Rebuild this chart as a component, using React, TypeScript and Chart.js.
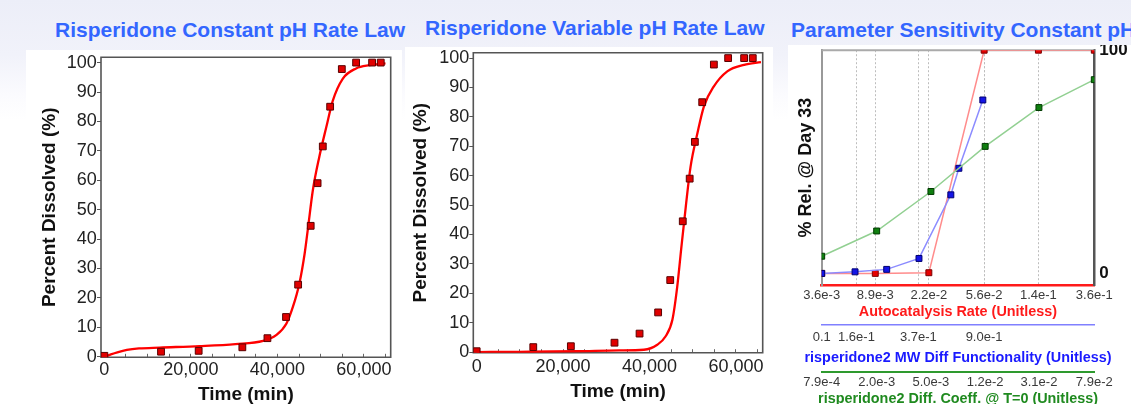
import React, { useEffect, useRef } from "react";
import { Chart, registerables } from "chart.js";
Chart.register(...registerables);

const FONT = "'Liberation Sans', Arial, Helvetica, sans-serif";

// ---- Dissolution data (shared observed points) ----
const obsTime = [0, 13100, 21800, 31900, 37700, 42000, 44800, 47700, 49300, 50500, 52200, 54900, 58200, 61900, 63900];
const obsPct = [0.3, 1.7, 2.0, 3.2, 6.3, 13.5, 24.5, 44.5, 59, 71.5, 85, 97.8, 100, 100, 100];

// Constant pH rate law fitted curve
const fitTime1 = [0, 1500, 3000, 5200, 8000, 12800, 22000, 30300, 36700, 39800, 42100, 43600, 45100, 46300, 47100, 48200, 49700, 51300, 52800, 55100, 58200, 61300, 65000];
const fitPct1 = [0, 0.8, 1.5, 2.3, 2.8, 3.1, 3.6, 4.3, 5.4, 7.4, 11.3, 17, 25, 35, 44, 56.6, 68, 78, 87, 94.5, 98, 99.1, 99.7];

// Variable pH rate law fitted curve
const fitTime2 = [0, 10000, 23200, 33000, 38700, 41800, 43700, 45300, 46400, 47400, 48400, 49500, 51100, 52600, 54900, 58000, 61900, 65800];
const fitPct2 = [0, 0.1, 0.3, 0.6, 0.8, 2.5, 5.3, 11, 22, 36, 49.5, 63, 74.5, 83.6, 90.4, 95.5, 97.7, 98.6];

const timeTicks = [0, 5000, 10000, 15000, 20000, 25000, 30000, 35000, 40000, 45000, 50000, 55000, 60000, 65000];
const timeLabelEvery = 20000;
const pctTicks = [0, 10, 20, 30, 40, 50, 60, 70, 80, 90, 100];

// ---- Parameter sensitivity data ----
const autoRate = [3.6e-3, 8.9e-3, 2.2e-2, 5.6e-2, 1.4e-1, 3.6e-1];
const autoPct = [0, 0, 0.3, 100, 100, 100];
const mwDiff = [0.1, 0.157, 0.241, 0.373, 0.574, 0.64, 0.885];
const mwPct = [0, 0.7, 1.8, 6.7, 35.2, 47.1, 77.7];
const diffCoeff = [7.9e-4, 2.0e-3, 5.0e-3, 1.25e-2, 3.1e-2, 7.9e-2];
const diffPct = [7.7, 19.0, 36.7, 56.9, 74.3, 86.8];

const autoTicks = [3.6e-3, 8.9e-3, 2.2e-2, 5.6e-2, 1.4e-1, 3.6e-1];
const autoTickLabels = ["3.6e-3", "8.9e-3", "2.2e-2", "5.6e-2", "1.4e-1", "3.6e-1"];
const mwTicks = [0.1, 0.16, 0.37, 0.9];
const mwTickLabels = ["0.1", "1.6e-1", "3.7e-1", "9.0e-1"];
const diffTicks = [7.9e-4, 2.0e-3, 5.0e-3, 1.25e-2, 3.1e-2, 7.9e-2];
const diffTickLabels = ["7.9e-4", "2.0e-3", "5.0e-3", "1.2e-2", "3.1e-2", "7.9e-2"];
const relTicks = [0, 100];

const framePlugin = {
  id: "frame",
  beforeDatasetsDraw(chart: any, _a: any, opts: any) {
    const { ctx, chartArea: a } = chart;
    ctx.save();
    ctx.strokeStyle = opts.color;
    ctx.lineWidth = opts.width;
    ctx.beginPath();
    if (opts.full) {
      ctx.rect(a.left, a.top, a.right - a.left, a.bottom - a.top);
    } else {
      ctx.moveTo(a.left, a.top);
      ctx.lineTo(a.right, a.top);
    }
    ctx.stroke();
    ctx.restore();
  },
};

// Axis titles drawn without Chart.js's maxWidth squeeze (they are wider than the plot)
const axisTitlePlugin = {
  id: "axisTitles",
  afterDraw(chart: any, _a: any, opts: any) {
    const { ctx } = chart;
    const items = opts.items || [];
    ctx.save();
    ctx.textAlign = "center";
    ctx.textBaseline = "middle";
    for (const it of items) {
      const s = chart.scales[it.axis];
      if (!s) continue;
      ctx.font = `bold ${it.size}px ${FONT}`;
      ctx.fillStyle = it.color;
      ctx.fillText(it.text, (s.left + s.right) / 2, s.bottom - it.pad - (it.size * 1.2) / 2);
    }
    ctx.restore();
  },
};

const pts = (xs: number[], ys: number[]) => xs.map((x, i) => ({ x, y: ys[i] }));

function dissolutionConfig(fitT: number[], fitP: number[], g: any) {
  return {
    type: "scatter",
    data: {
      datasets: [
        {
          data: pts(obsTime, obsPct),
          pointStyle: "rect",
          pointRadius: 4.8,
          backgroundColor: "#e00000",
          borderColor: "#5a0000",
          borderWidth: 1,
          showLine: false,
          order: 0,
        },
        {
          type: "line",
          data: pts(fitT, fitP),
          borderColor: "#ff0000",
          borderWidth: 2.3,
          pointRadius: 0,
          cubicInterpolationMode: "monotone",
          fill: false,
          order: 1,
        },
      ],
    },
    options: {
      responsive: false,
      animation: false,
      events: [],
      layout: { padding: { left: 0, top: g.padTop, right: g.padRight, bottom: 0 } },
      plugins: {
        legend: { display: false },
        tooltip: { enabled: false },
        frame: { full: true, color: "#555", width: 1.6 },
      },
      scales: {
        x: {
          type: "linear",
          min: -780,
          max: 66200,
          afterBuildTicks: (s: any) => { s.ticks = timeTicks.map((v) => ({ value: v })); },
          afterFit: (s: any) => { s.height = g.xHeight; s.paddingLeft = 0; s.paddingRight = 0; },
          ticks: {
            callback: (v: any) => (Number(v) % timeLabelEvery === 0 ? Number(v).toLocaleString("en-US") : ""),
            font: { family: FONT, size: 18 },
            color: "#222",
            padding: g.xTickPad + 3.5,
            maxRotation: 0,
            autoSkip: false,
          },
          grid: { drawOnChartArea: false, tickLength: -3.5, color: "#666", lineWidth: 1 },
          border: { display: false },
          title: {
            display: true,
            text: "Time (min)",
            font: { family: FONT, size: 19, weight: "bold" },
            color: "#111",
            padding: { top: 0, bottom: g.xTitlePad },
          },
        },
        y: {
          type: "linear",
          min: -0.2,
          max: 101.8,
          afterBuildTicks: (s: any) => { s.ticks = pctTicks.map((v) => ({ value: v })); },
          afterFit: (s: any) => { s.width = g.yWidth; s.paddingTop = 0; s.paddingBottom = 0; },
          ticks: {
            font: { family: FONT, size: 18 },
            color: "#222",
            padding: g.yTickPad,
            autoSkip: false,
          },
          grid: { drawOnChartArea: false, tickLength: 4, color: "#555" },
          border: { display: false },
          title: {
            display: true,
            text: "Percent Dissolved (%)",
            font: { family: FONT, size: 19, weight: "bold" },
            color: "#111",
            padding: { top: g.yTitlePad, bottom: 0 },
          },
        },
      },
    },
    plugins: [framePlugin],
  };
}

function logAxis(ticks: number[], labels: string[], min: number, max: number, weight: number, o: any) {
  return {
    type: "logarithmic",
    position: "bottom",
    weight,
    min,
    max,
    afterBuildTicks: (s: any) => { s.ticks = ticks.map((v) => ({ value: v })); },
    afterFit: (s: any) => { s.height = o.height; s.paddingLeft = 0; s.paddingRight = 0; },
    ticks: {
      callback: (_v: any, i: number) => labels[i],
      font: { family: FONT, size: 13 },
      color: "#3a3a3a",
      padding: o.tickPad,
      maxRotation: 0,
      autoSkip: false,
    },
    grid: {
      display: o.grid,
      drawTicks: false,
      lineWidth: 1,
      color: (c: any) => {
        const v = c.tick ? c.tick.value : null;
        if (v === null || v === min || v === max) return "rgba(0,0,0,0)";
        return "#bdbdbd";
      },
    },
    border: { display: true, color: o.borderColor, width: o.borderWidth, dash: [2, 2] },
    title: { display: false },
  };
}

function sensitivityConfig() {
  const line = (xs: number[], ys: number[], axis: string, lc: string, pc: string, pb: string) => ({
    type: "line",
    data: pts(xs, ys),
    xAxisID: axis,
    yAxisID: "y",
    borderColor: lc,
    borderWidth: 1.5,
    pointStyle: "rect",
    pointRadius: 4.2,
    pointBackgroundColor: pc,
    pointBorderColor: pb,
    pointBorderWidth: 1,
    tension: 0,
    fill: false,
  });
  return {
    type: "line",
    data: {
      datasets: [
        line(diffCoeff, diffPct, "xg", "#92d092", "#0f7f0f", "#003a00"),
        line(mwDiff, mwPct, "xb", "#8c8cff", "#1414e6", "#000070"),
        line(autoRate, autoPct, "xr", "#ff8c8c", "#e60000", "#7a0000"),
      ],
    },
    options: {
      responsive: false,
      animation: false,
      events: [],
      layout: { padding: { left: 0, top: 4, right: 0, bottom: 0 } },
      plugins: {
        legend: { display: false },
        tooltip: { enabled: false },
        frame: { full: false, color: "#aaa", width: 2 },
        axisTitles: {
          items: [
            { axis: "xr", text: "Autocatalysis Rate (Unitless)", color: "#ff1a1a", size: 14.4, pad: 3.4 },
            { axis: "xb", text: "risperidone2 MW Diff Functionality (Unitless)", color: "#1a1aff", size: 14.4, pad: 5.4 },
            { axis: "xg", text: "risperidone2 Diff. Coeff. @ T=0 (Unitless)", color: "#1f8a1f", size: 14.4, pad: 1.8 },
          ],
        },
      },
      scales: {
        xr: logAxis(autoTicks, autoTickLabels, 3.6e-3, 3.6e-1, 0, {
          height: 39.3, tickPad: 2.9, grid: true, borderColor: "#ff1a1a", borderWidth: 2.5,
        }),
        xb: logAxis(mwTicks, mwTickLabels, 0.1, 4.0, 1, {
          height: 48, tickPad: 5.2, grid: true, borderColor: "#8080ff", borderWidth: 1.5,
        }),
        xg: logAxis(diffTicks, diffTickLabels, 7.9e-4, 7.9e-2, 2, {
          height: 36.7, tickPad: 2.2, grid: false, borderColor: "#2e9a2e", borderWidth: 2,
        }),
        y: {
          type: "linear",
          position: "left",
          min: -5.2,
          max: 100,
          afterFit: (s: any) => { s.width = 33.7; s.paddingTop = 0; s.paddingBottom = 0; },
          ticks: { display: false },
          grid: { display: false, drawTicks: false },
          border: { display: true, color: "#999", width: 2 },
          title: {
            display: true,
            text: "% Rel. @ Day 33",
            font: { family: FONT, size: 18, weight: "bold" },
            color: "#111",
            padding: { top: 7.2, bottom: 0 },
          },
        },
        y2: {
          type: "linear",
          position: "right",
          min: -5.2,
          max: 100,
          afterBuildTicks: (s: any) => { s.ticks = relTicks.map((v) => ({ value: v })); },
          afterFit: (s: any) => { s.width = 53.7; s.paddingTop = 0; s.paddingBottom = 0; },
          ticks: {
            font: { family: FONT, size: 17, weight: "bold" },
            color: "#111",
            padding: 5,
            autoSkip: false,
          },
          grid: { display: false, drawTicks: false },
          border: { display: true, color: "#555", width: 2.5 },
        },
      },
    },
    plugins: [framePlugin, axisTitlePlugin],
  };
}

function ChartCanvas({ make, left, top, w, h }: any) {
  const ref = useRef<HTMLCanvasElement>(null);
  useEffect(() => {
    const chart = new Chart(ref.current as HTMLCanvasElement, make() as any);
    return () => chart.destroy();
  }, []);
  return (
    <canvas
      ref={ref}
      width={w}
      height={h}
      style={{ position: "absolute", left, top, width: w, height: h, background: "#fff", display: "block" }}
    />
  );
}

const titleStyle = (left: number, top: number): React.CSSProperties => ({
  position: "absolute",
  left,
  top,
  fontFamily: FONT,
  fontWeight: "bold",
  fontSize: 21,
  lineHeight: "21px",
  color: "#3366ff",
  whiteSpace: "nowrap",
});

export default function App() {
  const g1 = { padTop: 7.3, padRight: 11.3, yWidth: 75, yTitlePad: 11.9, yTickPad: 0.3, xHeight: 52.7, xTickPad: 1.9, xTitlePad: 3.6 };
  const g2 = { padTop: 5.7, padRight: 10.3, yWidth: 68.3, yTitlePad: 4.3, yTickPad: 0, xHeight: 54.3, xTickPad: 3.2, xTitlePad: 3.9 };
  return (
    <div
      style={{
        position: "fixed",
        left: 0,
        top: 0,
        width: 1131,
        height: 404,
        overflow: "hidden",
        background: "linear-gradient(to bottom, #eceef8 0px, #f1f2fa 55px, #fbfbfe 95px, #ffffff 120px)",
      }}
    >
      <ChartCanvas make={() => dissolutionConfig(fitTime1, fitPct1, g1)} left={26} top={50} w={376} h={360} />
      <ChartCanvas make={() => dissolutionConfig(fitTime2, fitPct2, g2)} left={405} top={47} w={368} h={360} />
      <ChartCanvas make={sensitivityConfig} left={788} top={45} w={360} h={364} />
      <div style={titleStyle(55, 19)}>Risperidone Constant pH Rate Law</div>
      <div style={titleStyle(425, 17)}>Risperidone Variable pH Rate Law</div>
      <div style={titleStyle(791, 19)}>Parameter Sensitivity Constant pH</div>
    </div>
  );
}
